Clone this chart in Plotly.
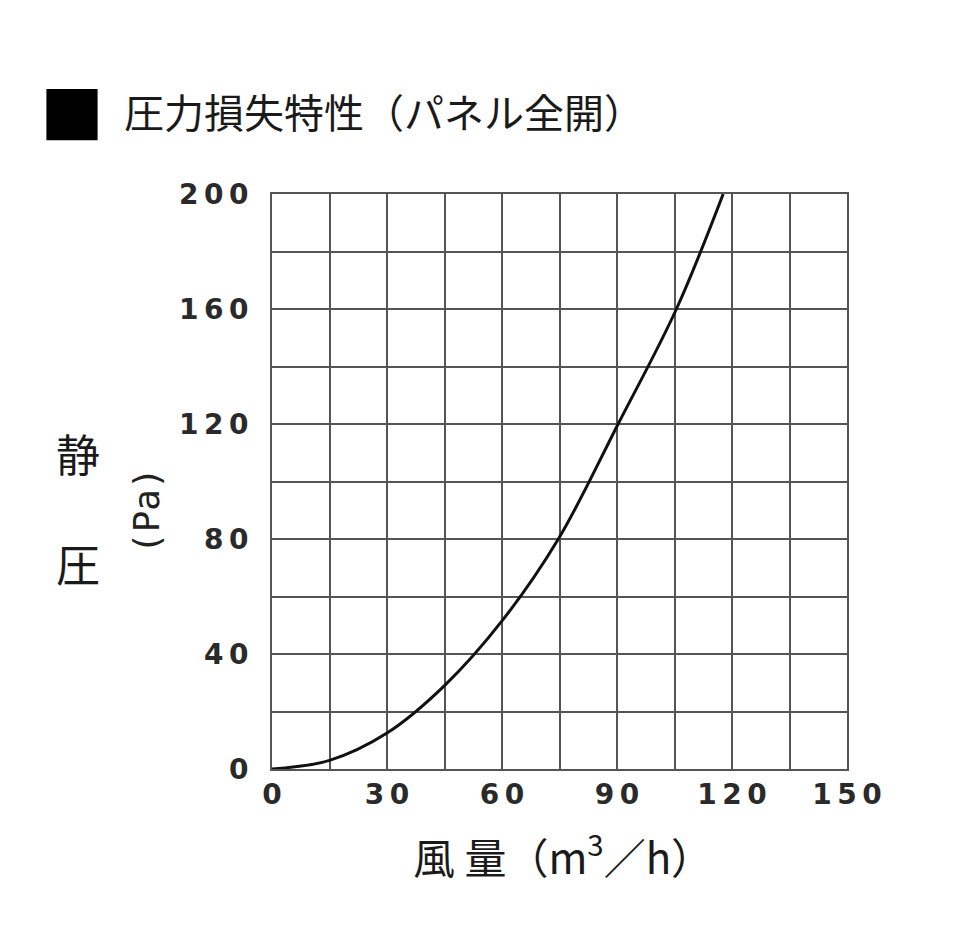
import plotly.graph_objects as go

# values
flow = [0, 15, 30, 45, 60, 74.7, 90.3, 105.5, 117.7]
pressure = [0, 3, 12.5, 29, 51.5, 80, 120, 160, 200]

x_ticks = [0, 30, 60, 90, 120, 150]
y_ticks = [0, 40, 80, 120, 160, 200]

title_text = "圧力損失特性（パネル全開）"
x_title = "風 量（m<sup>3</sup>／h）"

GRID = "#555555"
INK = "#1a1a1a"
CJK = "Noto Sans CJK JP"
NUM = "DejaVu Sans"

# where the plot area sits on the page (reference pixels)
PX0, PY0, PW, PH = 271, 193, 575, 575


def spaced(v):
    return "\u2009".join(str(v))


fig = go.Figure(go.Scatter(
    x=flow, y=pressure, mode="lines",
    line=dict(color="#111111", width=3, shape="spline", smoothing=1.0),
    hoverinfo="skip",
))

axis_style = dict(
    showgrid=True, gridcolor=GRID, gridwidth=1.6,
    showline=True, linecolor=GRID, linewidth=1.6, mirror=True,
    zeroline=False, ticks="",
    tickfont=dict(family=NUM, size=28, color="#2a2a2a", weight="bold"),
)
fig.update_xaxes(
    range=[0, 150], tickvals=x_ticks, ticktext=[spaced(v) for v in x_ticks],
    minor=dict(dtick=15, tick0=0, showgrid=True, gridcolor=GRID, gridwidth=1.6),
    ticklabelstandoff=0, **axis_style,
)
fig.update_yaxes(
    range=[0, 200], tickvals=y_ticks, ticktext=[spaced(v) for v in y_ticks],
    minor=dict(dtick=20, tick0=0, showgrid=True, gridcolor=GRID, gridwidth=1.6),
    ticklabelstandoff=16, **axis_style,
)

labels = [
    dict(text="■", x=71, y=110, font=dict(family=CJK, size=64, color="#000000")),
    dict(text=title_text, x=383, y=110,
         font=dict(family=CJK, size=40, color=INK)),
    dict(text="静", x=77, y=452, font=dict(family=CJK, size=44, color=INK)),
    dict(text="圧", x=77, y=562, font=dict(family=CJK, size=44, color=INK)),
    dict(text="(Pa)", x=145, y=510, textangle=-90,
         font=dict(family="DejaVu Sans Mono", size=36, color="#222222")),
    dict(text=x_title, x=562, y=853, font=dict(family=CJK, size=42, color=INK)),
]
annotations = []
for lab in labels:
    lab = dict(lab)
    lab["x"] = (lab["x"] - PX0) / PW
    lab["y"] = (PY0 + PH - lab["y"]) / PH
    annotations.append(dict(xref="paper", yref="paper", showarrow=False,
                            xanchor="center", yanchor="middle", **lab))

# page has ~7px offset, so margins are shifted to land the plot at PX0, PY0
fig.update_layout(
    width=959, height=944,
    margin=dict(l=PX0 - 7, r=959 - (PX0 - 7) - PW, t=PY0 - 7, b=944 - (PY0 - 7) - PH),
    paper_bgcolor="white", plot_bgcolor="white",
    showlegend=False,
    annotations=annotations,
)

fig.write_html("out.html")
